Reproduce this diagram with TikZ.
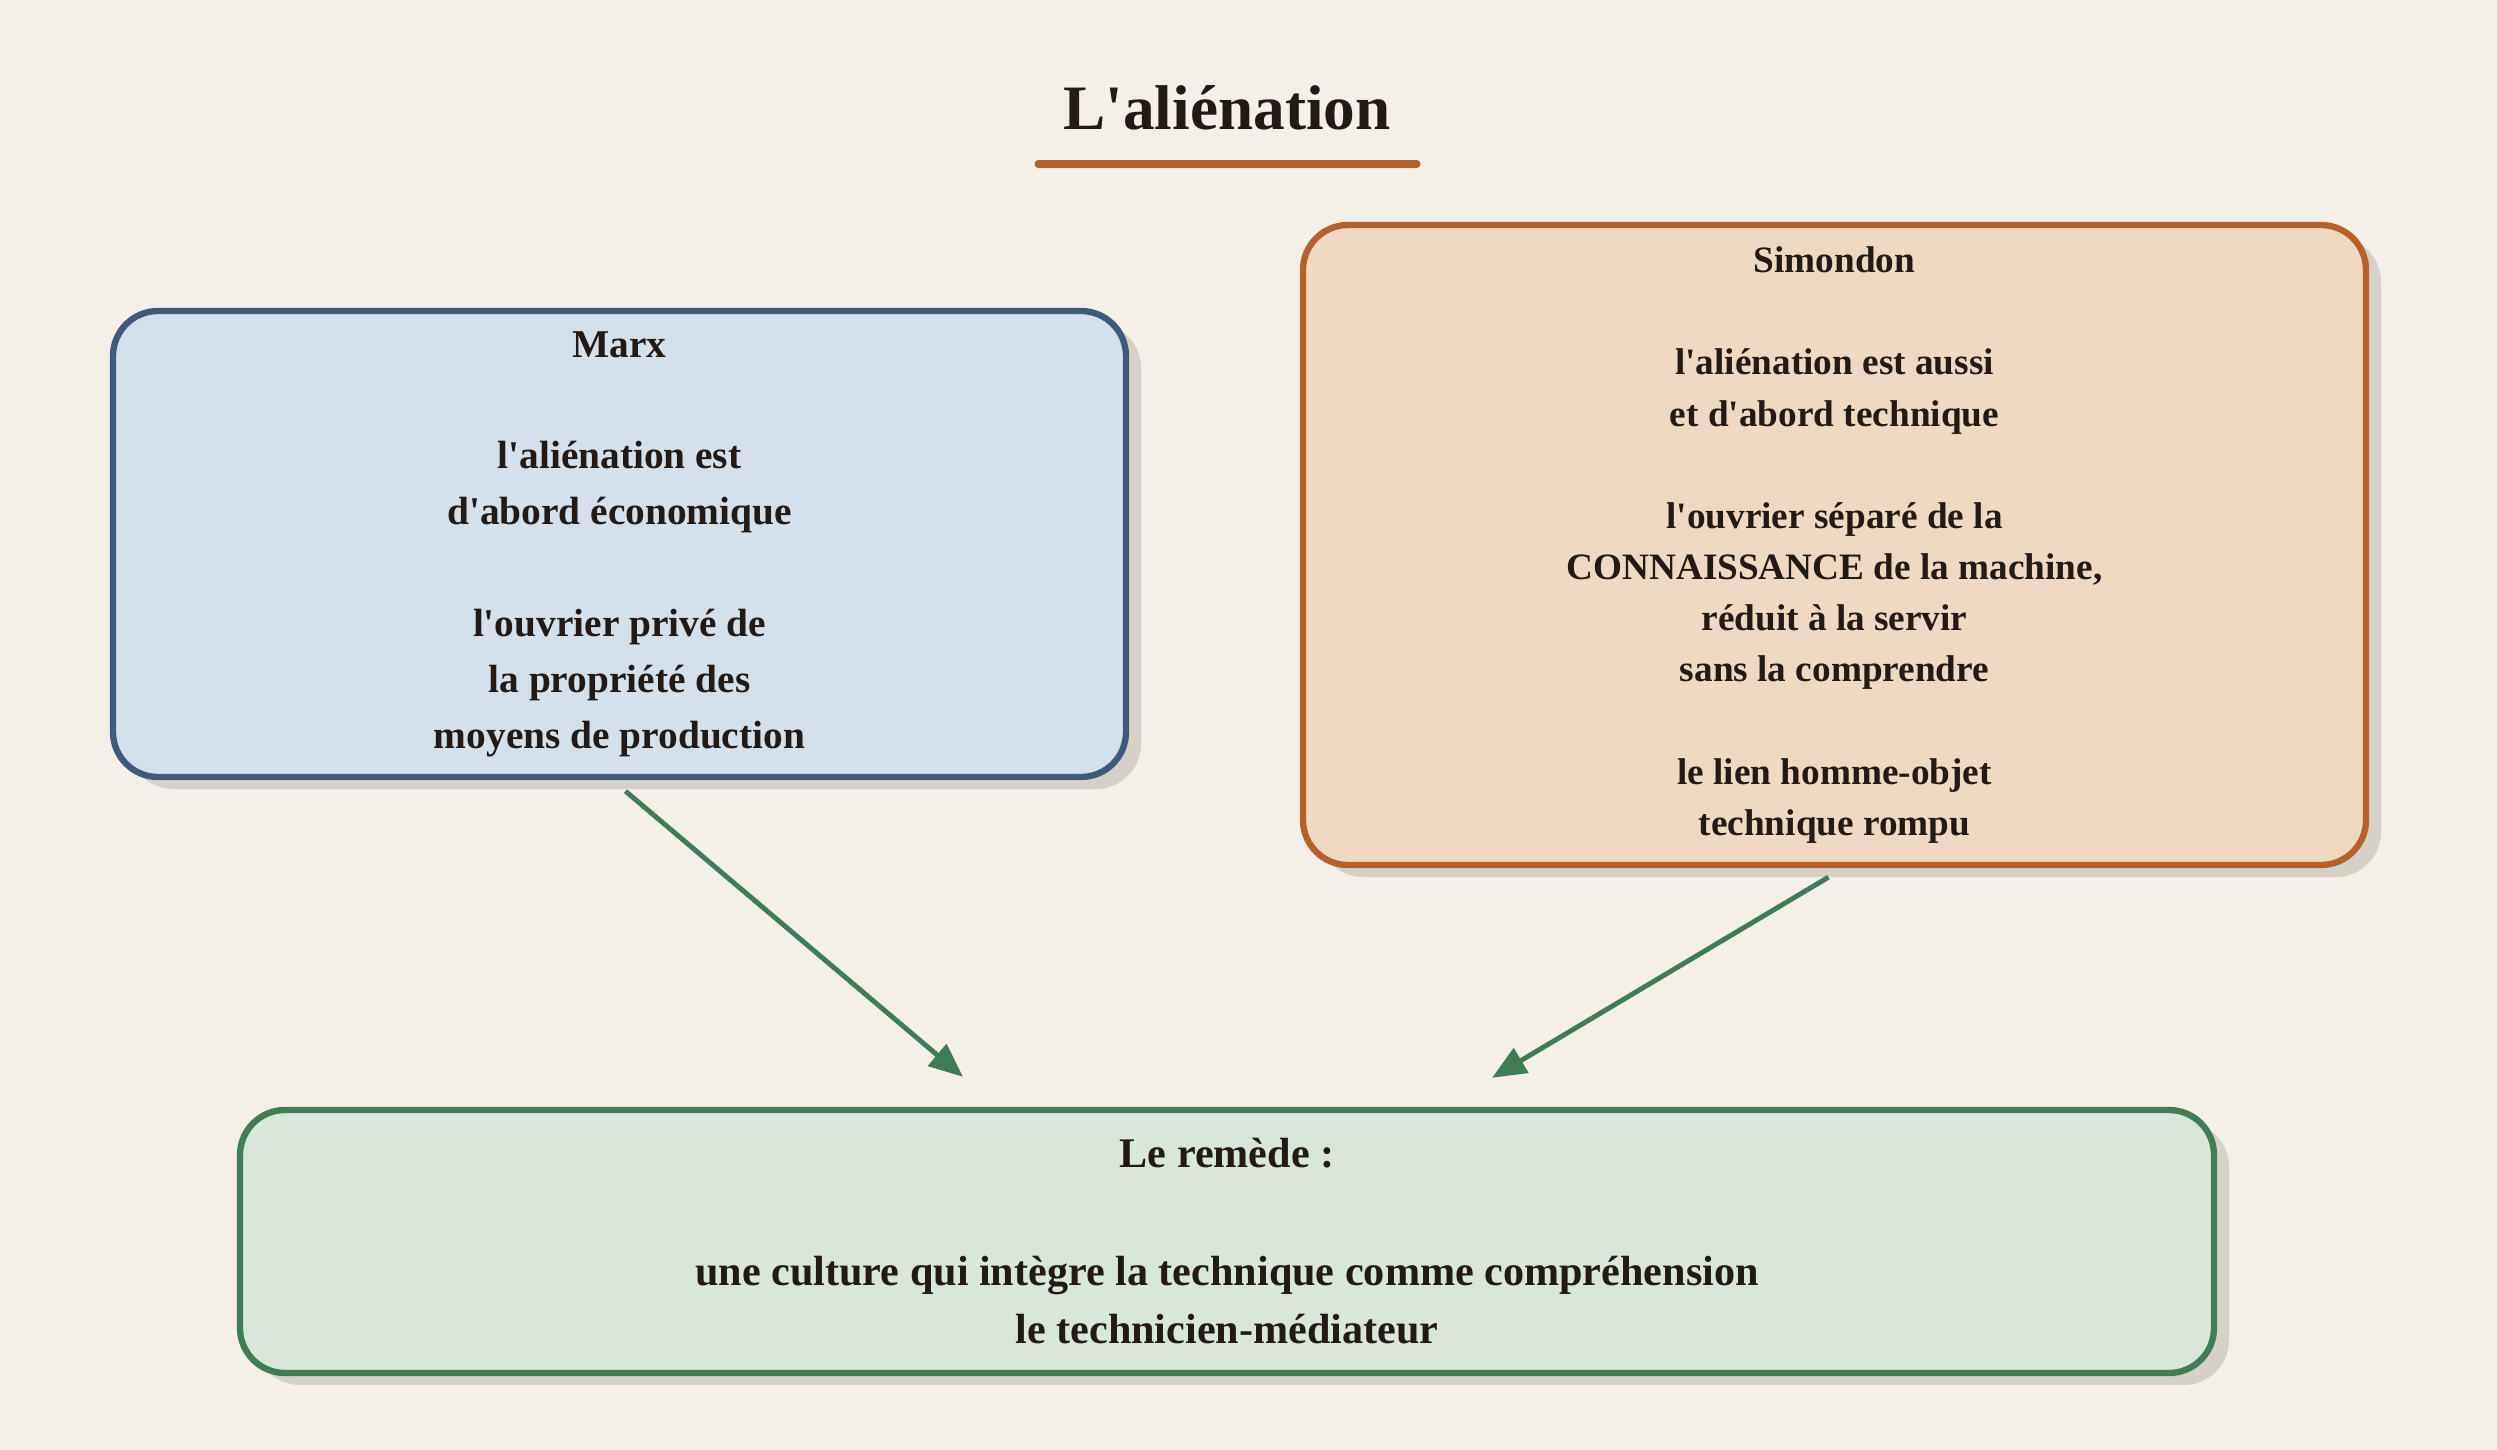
\documentclass[tikz,border=0pt]{standalone}
\usepackage{fontspec}
\setmainfont{Liberation Serif}[Ligatures=TeXOff]
\usetikzlibrary{arrows.meta,shadows,positioning}

\definecolor{paper}{HTML}{F4F0E8}
\definecolor{ink}{HTML}{231A15}
\definecolor{rust}{HTML}{B5622A}
\definecolor{peach}{HTML}{EFD9C3}
\definecolor{slate}{HTML}{3F5A7A}
\definecolor{mist}{HTML}{D4E0EC}
\definecolor{leaf}{HTML}{3F7D55}
\definecolor{sage}{HTML}{D9E6DA}
\definecolor{shade}{HTML}{D5D0C8}

\begin{document}
\begin{tikzpicture}[>={Triangle[length=0.34cm, width=0.28cm]},
    box/.style={draw, rounded corners=0.45cm, line width=1.8pt, align=center,
      inner sep=0pt, text=ink,
      drop shadow={shadow xshift=0.15cm, shadow yshift=-0.12cm, fill=shade, opacity=1}},
    link/.style={->, draw=leaf, line width=1.4pt}]
    % Page
    \fill[paper] (0,0) rectangle (24.97,-14.5);
    \useasboundingbox (0,0) rectangle (24.97,-14.5);

    % Title
    \node[anchor=base, text=ink, font=\fontsize{18}{22}\selectfont\bfseries] (title) at (12.27,-1.3) {L'aliénation};
    \coordinate (ulleft) at (10.38,-1.64);
    \coordinate (ulright) at (14.17,-1.64);
    \draw[rust, line width=2pt, line cap=round] (ulleft) -- (ulright);

    % Marx
    \node[box, draw=slate, fill=mist, minimum width=10.13cm, minimum height=4.66cm,
      font=\fontsize{11.2}{15.9}\selectfont\bfseries] (marx) at (6.195,-5.44)
      {Marx\\[\baselineskip]
       l'aliénation est\\
       d'abord économique\\[\baselineskip]
       l'ouvrier privé de\\
       la propriété des\\
       moyens de production};

    % Simondon
    \node[box, draw=rust, fill=peach, minimum width=10.63cm, minimum height=6.4cm,
      font=\fontsize{10.6}{14.55}\selectfont\bfseries] (simondon) at (18.345,-5.45)
      {Simondon\\[\baselineskip]
       l'aliénation est aussi\\
       et d'abord technique\\[\baselineskip]
       l'ouvrier séparé de la\\
       CONNAISSANCE de la machine,\\
       réduit à la servir\\
       sans la comprendre\\[\baselineskip]
       le lien homme-objet\\
       technique rompu};

    % Le remede
    \node[box, draw=leaf, fill=sage, minimum width=19.74cm, minimum height=2.63cm,
      font=\fontsize{12}{16.7}\selectfont\bfseries] (remede) at (12.27,-12.415)
      {Le remède :\\[\baselineskip]
       une culture qui intègre la technique comme compréhension\\
       le technicien-médiateur};

    % Arrows
    \coordinate (inleft) at ([xshift=-2.64cm, yshift=0.3cm]remede.north);
    \coordinate (inright) at ([xshift=2.65cm, yshift=0.29cm]remede.north);
    \draw[link] ([xshift=0.06cm, yshift=-0.11cm]marx.south) -- (inleft);
    \draw[link] ([xshift=-0.06cm, yshift=-0.09cm]simondon.south) -- (inright);
\end{tikzpicture}
\end{document}
